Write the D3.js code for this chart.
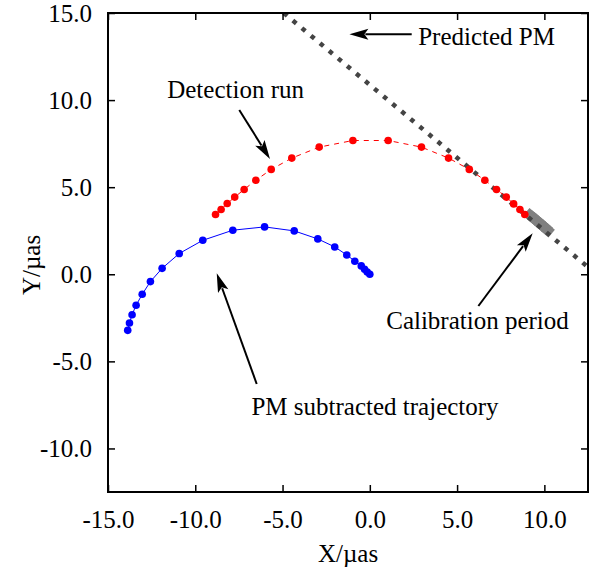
<!DOCTYPE html>
<html><head><meta charset="utf-8">
<script src="https://cdn.jsdelivr.net/npm/d3@7"></script>
<style>
html,body{margin:0;padding:0;background:#fff;}
svg text{font-family:"Liberation Serif","DejaVu Serif",serif !important;}
</style></head>
<body>
<svg id="c" width="607" height="574" font-family="Liberation Serif"></svg>
<script>
// ---- data ----
const xTicks = [-15, -10, -5, 0, 5, 10];
const yTicks = [15, 10, 5, 0, -5, -10];
const xDomain = [-15, 12.5];
const yDomain = [-12.5, 15];

// PM subtracted trajectory (blue)
const blueX = [-13.87, -13.77, -13.62, -13.39, -13.04, -12.57, -11.90, -10.92, -9.57, -7.85,
               -6.03, -4.33, -2.98, -2.01, -1.32, -0.86, -0.49, -0.30, -0.15, 0.0];
const blueY = [-3.22, -2.80, -2.32, -1.78, -1.15, -0.42, 0.34, 1.19, 1.95, 2.53,
               2.72, 2.49, 2.03, 1.57, 1.11, 0.75, 0.48, 0.29, 0.13, 0.0];

// Detection run (red)
const redX = [-8.84, -8.52, -8.17, -7.74, -7.20, -6.53, -5.65, -4.47, -2.90, -0.97,
              1.05, 2.96, 4.51, 5.70, 6.59, 7.26, 7.82, 8.24, 8.60, 8.88];
const redY = [3.43, 3.72, 4.06, 4.43, 4.87, 5.40, 6.02, 6.67, 7.30, 7.68,
              7.68, 7.30, 6.67, 6.02, 5.40, 4.87, 4.43, 4.04, 3.72, 3.43];

// Calibration period (grey)
const calX = [9.18, 9.31, 9.44, 9.57, 9.70, 9.83, 9.96, 10.09, 10.20];
const calY = [3.40, 3.29, 3.18, 3.07, 2.96, 2.85, 2.74, 2.63, 2.52];

// Predicted PM line end points
const pmX = [-4.93, 12.5];
const pmY = [15.0, 0.41];

// annotations
const annLabels = ["Predicted PM", "Detection run", "Calibration period", "PM subtracted trajectory"];
const annTextX  = [2.77, -7.69, 6.17, 0.30];
const annTextY  = [13.17, 10.12, -3.14, -8.08];
const annAnchor = ["start", "middle", "middle", "middle"];
const annFromX  = [2.40, -7.48, 6.22, -6.48];
const annFromY  = [13.78, 9.43, -1.82, -6.30];
const annToX    = [-1.17, -5.72, 9.33, -8.77];
const annToY    = [13.78, 6.62, 2.35, 0.06];

// ---- layout ----
const L = 108, R = 588, T = 13, B = 492;
const FONT = '"Liberation Serif","DejaVu Serif",serif';
const svg = d3.select("#c");
const x = d3.scaleLinear().domain(xDomain).range([L, R]);
const y = d3.scaleLinear().domain(yDomain).range([B, T]);
const fs = 25;

svg.append("defs").append("clipPath").attr("id", "clip")
  .append("rect").attr("x", L).attr("y", T).attr("width", R - L).attr("height", B - T);

const plot = svg.append("g").attr("clip-path", "url(#clip)");

// calibration band
plot.selectAll("rect.cal").data(calX.map((d, i) => [d, calY[i]])).enter()
  .append("rect").attr("class", "cal")
  .attr("x", -5).attr("y", -5).attr("width", 10).attr("height", 10)
  .attr("transform", d => `translate(${x(d[0])},${y(d[1])}) rotate(40)`)
  .attr("fill", "#808080");

// predicted PM dotted line
plot.append("line")
  .attr("x1", x(pmX[0])).attr("y1", y(pmY[0]))
  .attr("x2", x(pmX[1])).attr("y2", y(pmY[1]))
  .attr("stroke", "#444").attr("stroke-width", 4.5)
  .attr("stroke-dasharray", "4.5,7.3");

const line = d3.line().x(d => x(d[0])).y(d => y(d[1]));
const blue = blueX.map((d, i) => [d, blueY[i]]);
const red = redX.map((d, i) => [d, redY[i]]);

plot.append("path").attr("d", line(blue)).attr("fill", "none")
  .attr("stroke", "#0000ff").attr("stroke-width", 1);
plot.selectAll("circle.b").data(blue).enter().append("circle")
  .attr("cx", d => x(d[0])).attr("cy", d => y(d[1])).attr("r", 3.8).attr("fill", "#0000ff");

plot.append("path").attr("d", line(red)).attr("fill", "none")
  .attr("stroke", "#ff0000").attr("stroke-width", 1).attr("stroke-dasharray", "5,5");
plot.selectAll("circle.r").data(red).enter().append("circle")
  .attr("cx", d => x(d[0])).attr("cy", d => y(d[1])).attr("r", 3.8).attr("fill", "#ff0000");

// axes
const fmt = d => d.toFixed(1);
const gx = svg.append("g").attr("transform", `translate(0,${B})`)
  .call(d3.axisBottom(x).tickValues(xTicks).tickSize(-7).tickPadding(18).tickFormat(fmt));
const gxt = svg.append("g").attr("transform", `translate(0,${T})`)
  .call(d3.axisTop(x).tickValues(xTicks).tickSize(-7).tickFormat(""));
const gy = svg.append("g").attr("transform", `translate(${L},0)`)
  .call(d3.axisLeft(y).tickValues(yTicks).tickSize(-7).tickPadding(16).tickFormat(fmt));
const gyr = svg.append("g").attr("transform", `translate(${R},0)`)
  .call(d3.axisRight(y).tickValues(yTicks).tickSize(-7).tickFormat(""));
[gx, gxt, gy, gyr].forEach(g => {
  g.attr("font-family", FONT).attr("font-size", fs);
  g.select(".domain").remove();
  g.selectAll(".tick line").attr("stroke", "#000").attr("stroke-width", 1.5);
  g.selectAll(".tick text").attr("fill", "#000").attr("font-family", FONT).attr("font-size", fs);
});
svg.append("rect").attr("x", L).attr("y", T).attr("width", R - L).attr("height", B - T)
  .attr("fill", "none").attr("stroke", "#000").attr("stroke-width", 2);

// axis titles
svg.append("text").attr("x", (L + R) / 2).attr("y", 562).attr("text-anchor", "middle")
  .attr("font-family", FONT).attr("font-size", fs).text("X/µas");
svg.append("text").attr("transform", "translate(40,265) rotate(-90)").attr("text-anchor", "middle")
  .attr("font-family", FONT).attr("font-size", fs).text("Y/µas");

// annotations
function arrow(x1, y1, x2, y2) {
  const g = svg.append("g");
  const dx = x2 - x1, dy = y2 - y1, len = Math.hypot(dx, dy);
  const ux = dx / len, uy = dy / len;
  const hl = 19, hw = 5.5;
  const bx = x2 - ux * hl, by = y2 - uy * hl;
  g.append("line").attr("x1", x1).attr("y1", y1).attr("x2", bx + ux * 3).attr("y2", by + uy * 3)
    .attr("stroke", "#000").attr("stroke-width", 2);
  g.append("path").attr("d",
    `M${x2},${y2} L${bx - uy * hw},${by + ux * hw} L${bx + ux * 4},${by + uy * 4} L${bx + uy * hw},${by - ux * hw} Z`)
    .attr("fill", "#000");
}
annLabels.forEach((t, i) => {
  svg.append("text").attr("x", x(annTextX[i])).attr("y", y(annTextY[i]))
    .attr("text-anchor", annAnchor[i]).attr("font-family", FONT).attr("font-size", fs).text(t);
  arrow(x(annFromX[i]), y(annFromY[i]), x(annToX[i]), y(annToY[i]));
});
</script>
</body></html>
